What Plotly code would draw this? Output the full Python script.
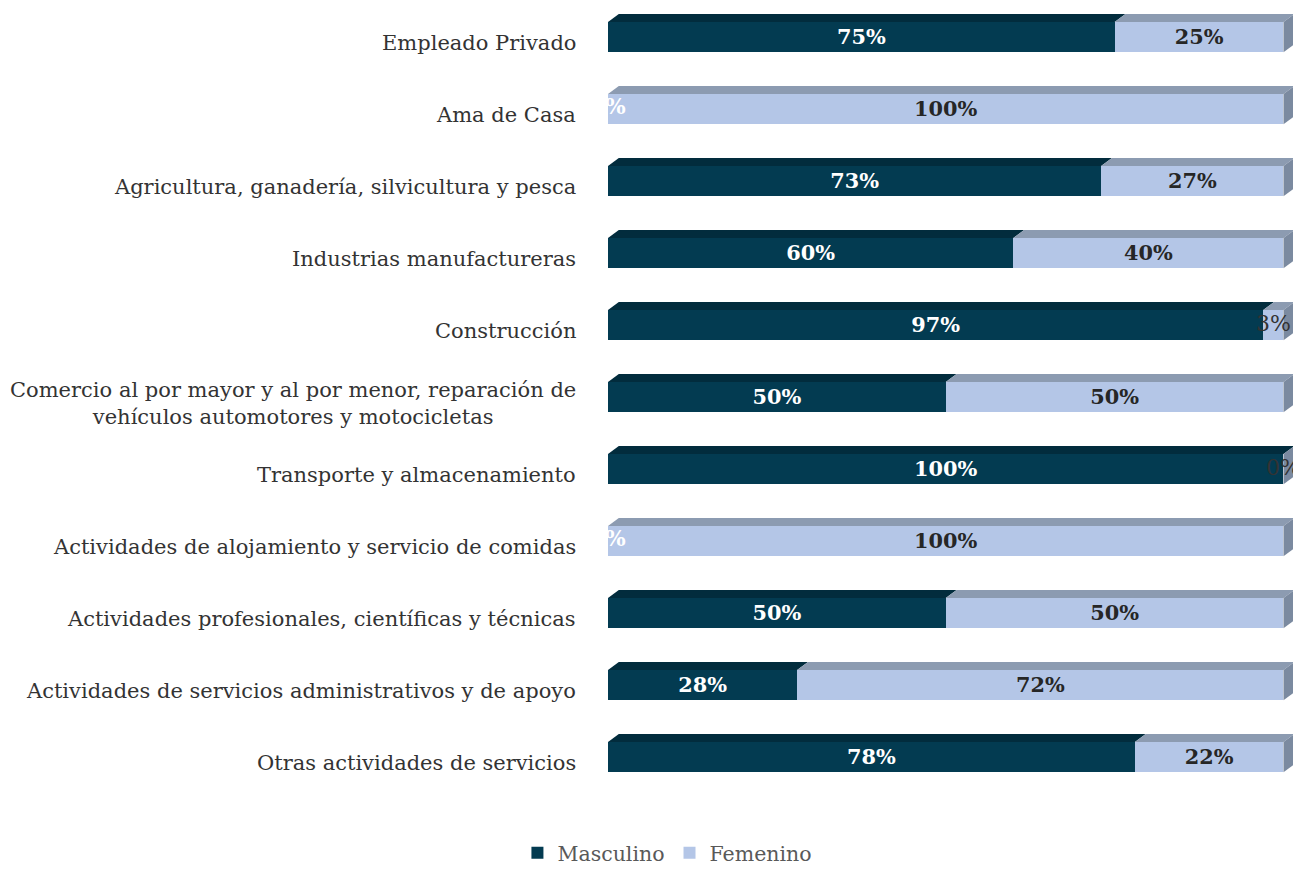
import plotly.graph_objects as go

categories = [
    "Empleado Privado",
    "Ama de Casa",
    "Agricultura, ganadería, silvicultura y pesca",
    "Industrias manufactureras",
    "Construcción",
    "Comercio al por mayor y al por menor, reparación de<br>vehículos automotores y motocicletas",
    "Transporte y almacenamiento",
    "Actividades de alojamiento y servicio de comidas",
    "Actividades profesionales, científicas y técnicas",
    "Actividades de servicios administrativos y de apoyo",
    "Otras actividades de servicios",
]
masculino = [75, 0, 73, 60, 97, 50, 100, 0, 50, 28, 78]
femenino = [25, 100, 27, 40, 3, 50, 0, 100, 50, 72, 22]

C_MASC = "#033b51"
C_FEM = "#b4c6e7"
C_MASC_TOP = "#022c3d"
C_FEM_TOP = "#8c9bb1"
C_SIDE = "#7b8aa0"
FONT = "DejaVu Serif"

pos = list(range(len(categories)))
bw = 0.42     # grosor de la barra
dx = 1.6      # desplazamiento en x de la cara superior
dy = 0.11     # altura de la cara superior

fig = go.Figure()

fig.add_trace(go.Bar(
    y=pos, x=masculino, orientation="h", name="Masculino",
    marker=dict(color=C_MASC, line=dict(width=0)), width=bw,
    text=[f"{v}%" if v >= 10 else "" for v in masculino],
    textposition="inside", insidetextanchor="middle",
    textfont=dict(family=FONT, size=21.5, color="white", weight="bold"),
    hoverinfo="skip",
))
fig.add_trace(go.Bar(
    y=pos, x=femenino, orientation="h", name="Femenino",
    marker=dict(color=C_FEM, line=dict(width=0)), width=bw,
    text=[f"{v}%" if v >= 10 else "" for v in femenino],
    textposition="inside", insidetextanchor="middle",
    textfont=dict(family=FONT, size=21.5, color="#262626", weight="bold"),
    hoverinfo="skip",
))

# etiquetas de valores pequeños
sm = [i for i, v in enumerate(masculino) if v < 10]
fig.add_trace(go.Scatter(
    x=[masculino[i] / 2 for i in sm], y=sm, mode="text",
    text=[f"{masculino[i]}%" for i in sm], cliponaxis=True,
    textfont=dict(family=FONT, size=21.5, color="white", weight="bold"),
    showlegend=False, hoverinfo="skip",
))
sf = [i for i, v in enumerate(femenino) if v < 10]
fig.add_trace(go.Scatter(
    x=[masculino[i] + femenino[i] / 2 for i in sf], y=sf, mode="text",
    text=[f"{femenino[i]}%" for i in sf], cliponaxis=False,
    textfont=dict(family=FONT, size=22, color="#333333"),
    showlegend=False, hoverinfo="skip",
))

# efecto 3D: cara superior y lateral
shapes = []
for i in pos:
    y0 = i - bw / 2
    y1 = y0 - dy
    segs = [(0, masculino[i], C_MASC_TOP), (masculino[i], masculino[i] + femenino[i], C_FEM_TOP)]
    for a, b, col in segs:
        if b > a:
            shapes.append(dict(type="path", xref="x", yref="y", layer="below",
                               path=f"M {a},{y0} L {b},{y0} L {b + dx},{y1} L {a + dx},{y1} Z",
                               fillcolor=col, line=dict(width=0)))
    end = masculino[i] + femenino[i]
    shapes.append(dict(type="path", xref="x", yref="y", layer="below",
                       path=f"M {end},{y0} L {end + dx},{y1} L {end + dx},{y1 + bw} L {end},{y0 + bw} Z",
                       fillcolor=C_SIDE, line=dict(width=0)))

annotations = []
for i, c in zip(pos, categories):
    annotations.append(dict(x=0, y=i, xref="x", yref="y", text=c, showarrow=False,
                            xanchor="right", xshift=-30, yshift=-6, align="center",
                            font=dict(family=FONT, size=21, color="#333333")))

fig.update_layout(
    barmode="stack",
    width=1293, height=864,
    margin=dict(l=600, r=4, t=0, b=80),
    plot_bgcolor="white", paper_bgcolor="white",
    xaxis=dict(range=[0, 102], visible=False),
    yaxis=dict(range=[10.486, -0.403], visible=False),
    shapes=shapes, annotations=annotations,
    showlegend=True,
    legend=dict(orientation="h", traceorder="normal",
                xref="container", x=0.51, xanchor="center",
                yref="container", y=0.022, yanchor="middle",
                font=dict(family=FONT, size=20.5, color="#595959")),
)

fig.write_html("out.html")
